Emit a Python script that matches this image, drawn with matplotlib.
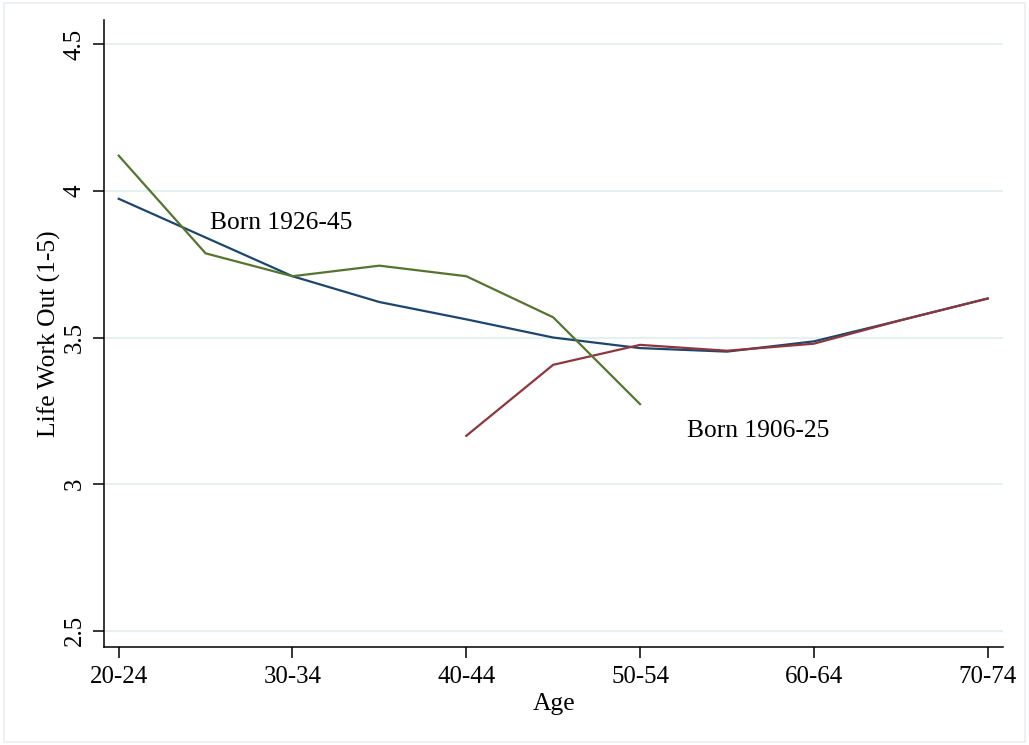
import matplotlib.pyplot as plt
from matplotlib.patches import Rectangle

# ============================================================================
# DATA
# ============================================================================

age_groups = ["20-24", "25-29", "30-34", "35-39", "40-44", "45-49",
              "50-54", "55-59", "60-64", "65-69", "70-74"]

all_cohorts = [3.973, 3.841, 3.709, 3.621, 3.562, 3.500,
               3.464, 3.452, 3.487, 3.559, 3.633]
born_1926_45 = [4.120, 3.787, 3.709, 3.745, 3.709, 3.569, 3.273]
born_1906_25 = [3.165, 3.407, 3.475, 3.455, 3.479, 3.559, 3.633]

y_ticks = [2.5, 3, 3.5, 4, 4.5]
x_tick_labels = age_groups[::2]

colors = {
    'navy': '#1a476f',
    'maroon': '#90353b',
    'green': '#55752f',
    'grid': '#e6eff1',
    'frame': '#e8eff3',
}

# ============================================================================
# PLOT
# ============================================================================

plt.rcParams.update({
    'font.family': ['Liberation Serif', 'DejaVu Serif'],
    'font.size': 18.4,
    'xtick.labelsize': 17.9,
    'ytick.labelsize': 17.9,
})

fig = plt.figure(figsize=(10.29, 7.45), dpi=100)
fig.patches.append(Rectangle((0.004, 0.004), 0.992, 0.992, transform=fig.transFigure,
                             fill=False, edgecolor=colors['frame'], linewidth=1.2))
ax = fig.add_axes([0.101, 0.1315, 0.874, 0.8415])

x_all = list(range(len(age_groups)))
x_young = x_all[:len(born_1926_45)]
x_old = x_all[4:4 + len(born_1906_25)]

for y in y_ticks:
    ax.axhline(y, color=colors['grid'], linewidth=1.5, zorder=0)

ax.plot(x_all, all_cohorts, color=colors['navy'], linewidth=1.6)
ax.plot(x_old, born_1906_25, color=colors['maroon'], linewidth=1.6)
ax.plot(x_young, born_1926_45, color=colors['green'], linewidth=1.6)

ax.text(1.05, 3.89, "Born 1926-45", ha='left', va='center')
ax.text(6.54, 3.183, "Born 1906-25", ha='left', va='center')

ax.set_xlim(-0.17, 10.18)
ax.set_ylim(2.445, 4.582)
ax.set_xticks(x_all[::2])
ax.set_xticklabels(x_tick_labels)
ax.set_yticks(y_ticks)
ax.set_yticklabels(["2.5", "3", "3.5", "4", "4.5"], rotation=90, va='center')

ax.tick_params(axis='both', direction='out', length=8, width=1.1, color='black')
ax.tick_params(axis='x', pad=6)
ax.tick_params(axis='y', pad=5)

for side in ['top', 'right']:
    ax.spines[side].set_visible(False)
for side in ['left', 'bottom']:
    ax.spines[side].set_linewidth(1.1)

ax.set_xlabel("Age", labelpad=3)
ax.set_ylabel("Life Work Out (1-5)", labelpad=2)

plt.savefig("out.png", dpi=100)
plt.close(fig)
